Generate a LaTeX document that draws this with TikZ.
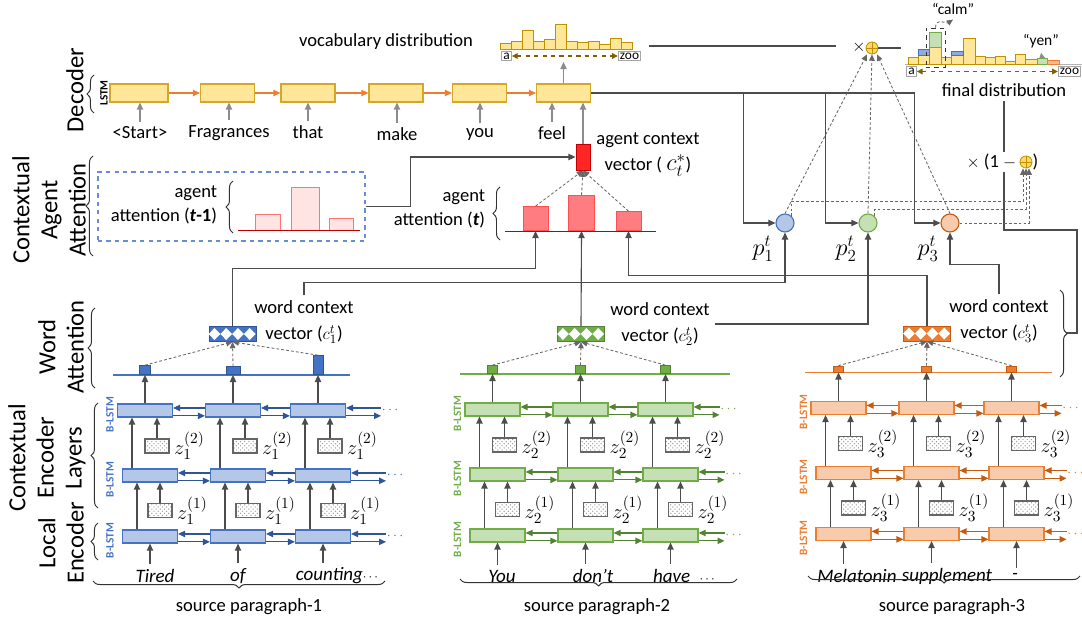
\documentclass[tikz,border=0pt]{standalone}
\usepackage{fontspec}
\setmainfont{Carlito}
\usetikzlibrary{arrows.meta, positioning, calc, decorations.pathreplacing, patterns}

\definecolor{decfill}{RGB}{255,230,153}
\definecolor{decdraw}{RGB}{214,166,40}
\definecolor{decflowc}{RGB}{237,125,49}
\definecolor{encF1}{RGB}{180,199,231}
\definecolor{encL1}{RGB}{68,114,196}
\definecolor{encD1}{RGB}{47,85,151}
\definecolor{encF2}{RGB}{197,224,180}
\definecolor{encL2}{RGB}{112,173,71}
\definecolor{encD2}{RGB}{84,130,53}
\definecolor{encF3}{RGB}{248,203,173}
\definecolor{encL3}{RGB}{237,125,49}
\definecolor{encD3}{RGB}{197,90,17}
\definecolor{agfill}{RGB}{255,124,128}
\definecolor{agdraw}{RGB}{255,80,80}
\definecolor{agline}{RGB}{192,0,0}
\definecolor{ctxred}{RGB}{255,38,38}
\definecolor{agpale}{RGB}{255,228,228}
\definecolor{vocbrown}{RGB}{127,96,0}
\definecolor{goldline}{RGB}{191,144,0}
\definecolor{oplusfill}{RGB}{255,217,102}
\definecolor{midblue}{RGB}{143,170,220}

\newcommand{\upx}{0.025cm}

\begin{document}
\begin{tikzpicture}[
    x=\upx, y=-\upx,
    font=\fontsize{13.2}{17}\selectfont,
    sidelbl/.style={rotate=90, align=center, font=\fontsize{17.5}{20}\selectfont},
    rottag/.style={rotate=90, inner sep=0, font=\bfseries\fontsize{8}{9}\selectfont},
    curly/.style={decorate, decoration={brace, amplitude=5pt}, draw=black!80, line width=0.7pt},
    declstm/.style={draw=decdraw, fill=decfill, line width=0.8pt, minimum width=54*\upx, minimum height=18*\upx, inner sep=0},
    lstm/.style={line width=0.8pt, minimum width=55*\upx, minimum height=13*\upx, inner sep=0},
    zbox/.style={draw=black!60, line width=0.9pt, pattern=crosshatch dots, pattern color=black!40, minimum width=24*\upx, minimum height=14*\upx, inner sep=0},
    zlab/.style={inner sep=0, font=\fontsize{15}{17}\selectfont},
    wbar/.style={anchor=south, line width=0.6pt, inner sep=0},
    cvec/.style={minimum width=47*\upx, minimum height=15*\upx, inner sep=0, line width=0.6pt},
    agbar/.style={anchor=south, fill=agfill, draw=agdraw, line width=0.6pt, inner sep=0},
    palebar/.style={fill=agpale, draw=agdraw!80, line width=0.6pt},
    agbase/.style={draw=agline, line width=0.7pt},
    ctxvec/.style={fill=ctxred, draw=agline, line width=0.7pt, minimum width=14*\upx, minimum height=26*\upx, inner sep=0},
    probnode/.style={circle, line width=0.8pt, minimum size=18*\upx, inner sep=0},
    oplus/.style={circle, draw=goldline, fill=oplusfill, line width=0.6pt, minimum size=12*\upx, inner sep=0,
        path picture={\draw[goldline, line width=0.6pt] (path picture bounding box.north) -- (path picture bounding box.south)
            (path picture bounding box.west) -- (path picture bounding box.east);}},
    histbar/.style={draw=goldline, fill=decfill, line width=0.7pt},
    vocbox/.style={draw=black!35, line width=0.7pt, inner sep=1.2pt, font=\fontsize{9.5}{10}\selectfont},
    vocarrow/.style={{Triangle[length=4pt,width=4pt]}-{Triangle[length=4pt,width=4pt]}, dashed, draw=vocbrown, line width=0.8pt},
    decflow/.style={-{Triangle[length=5pt,width=4.5pt]}, draw=decflowc, line width=0.9pt},
    grayarrow/.style={-{Triangle[length=5pt,width=4.5pt]}, draw=black!45, line width=0.9pt},
    encarrow/.style={-{Triangle[length=5pt,width=4.5pt]}, draw=black!70, line width=0.9pt},
    lstmarrow/.style={-{Triangle[length=5pt,width=4.5pt]}, line width=0.9pt},
    conn/.style={-{Triangle[length=5pt,width=4.5pt]}, draw=black!70, line width=0.8pt},
    connline/.style={draw=black!70, line width=0.8pt},
    dasharrow/.style={-{Triangle[length=4.5pt,width=4pt]}, dash pattern=on 2pt off 1.5pt, draw=black!60, line width=0.6pt},
]
\useasboundingbox (0,0) rectangle (1082,623);

% Left side labels
\node[sidelbl] (lbldec) at (75,90) {Decoder};
\draw[curly] (94,113) -- (94,75);
\node[rottag] (lbllstm) at (104,93) {LSTM};
\node[sidelbl] (lblagent) at (49,210) {Contextual\\Agent\\Attention};
\draw[curly] (93,256) -- (93,156);
\node[sidelbl] (lblword) at (61,347) {Word\\Attention};
\draw[curly] (95,388) -- (95,308);
\node[sidelbl] (lblctx) at (47,458) {Contextual\\Encoder\\Layers};
\draw[curly] (98,508) -- (98,403);
\node[sidelbl] (lbllocal) at (61,543) {Local\\Encoder};
\draw[curly] (98,560) -- (98,523);

% Decoder
\node[declstm, minimum width=58*\upx] (dec1) at (139,93) {};
\node[declstm] (dec2) at (227.5,93) {};
\node[declstm] (dec3) at (308,93) {};
\node[declstm] (dec4) at (396,93) {};
\node[declstm] (dec5) at (479.5,93) {};
\node[declstm] (dec6) at (563.5,93) {};
\foreach \a/\b in {1/2,2/3,3/4,4/5,5/6}
    \draw[decflow] (dec\a.east) -- (dec\b.west);
\node (dw1) at (140,133) {<Start>};
\node (dw2) at (229,133) {Fragrances};
\node (dw3) at (308,132) {that};
\node (dw4) at (397,134) {make};
\node (dw5) at (480,134) {you};
\node (dw6) at (552,133) {feel};
\foreach \k in {1,...,6}
    \draw[grayarrow] (dw\k.north) -- (dw\k.north |- dec\k.south);

% Vocabulary distribution
\node (vlabel) at (386,42) {vocabulary distribution};
\foreach \hh [count=\k] in {6,8,19,8,10,25,8,7,8,5,11,7}
    \draw[histbar] ({489+11*\k},49) rectangle ++(11,-\hh);
\node[vocbox] (va) at (506.5,56) {a};
\node[vocbox] (vzoo) at (629.5,56) {zoo};
\draw[vocarrow] (va.east) -- (vzoo.west);
\coordinate (vocin) at (563.5,62);
\draw[grayarrow] (dec6.north) -- (vocin);
\coordinate (vocout) at (649,46);
\coordinate (vocend) at (836,46);
\draw[connline] (vocout) -- (vocend);
\node[inner sep=0] (times1) at (859,47) {$\times$};
\node[oplus] (plus1) at (872,48) {};
\coordinate (finin) at (901,48);
\draw[connline] (plus1.east) -- (finin);

% Final distribution
\draw[black!30, line width=1.2pt] (905,64.5) -- (1082,64.5);
\foreach \xa/\xb/\hh in {908/918/7, 918/929/9, 929/941/17, 941/951/7, 951/963/9, 963/975/26, 975/985/8, 985/995/7, 995/1005/8, 1005/1015/3, 1015/1025/10, 1025/1037/5}
    \draw[histbar] (\xa,64) rectangle (\xb,{64-\hh});
\draw[fill=midblue, draw=encL1, line width=0.7pt] (918,55) rectangle (929,49);
\draw[fill=midblue, draw=encL1, line width=0.7pt] (951,55) rectangle (963,51);
\draw[fill=encF2, draw=encL2, line width=0.7pt] (929,47) rectangle (941,32);
\draw[fill=encF2, draw=encL2, line width=0.7pt] (1037,64) rectangle (1047,58);
\draw[fill=encF3!80!encL3, draw=encL3, line width=0.7pt] (1047,64) rectangle (1059,60);
\node[draw=black!80, dashed, line width=0.7pt, minimum width=19*\upx, minimum height=39*\upx, inner sep=0] (calmbox) at (935.5,47.5) {};
\node[font=\fontsize{11}{12}\selectfont] (calm) at (953,9) {“calm”};
\draw[dasharrow] (calmbox.north) .. controls +(0,-10) and +(-6,4) .. (calm.south);
\node[font=\fontsize{11}{12}\selectfont] (yen) at (1041,41) {“yen”};
\coordinate (yenbar) at (1042,58);
\draw[-{Triangle[length=4pt,width=4pt]}, draw=black!45, line width=0.8pt] (yenbar) -- (yen.south);
\node[vocbox] (fa) at (911.5,71.5) {a};
\node[vocbox] (fzoo) at (1069.5,71.5) {zoo};
\draw[vocarrow] (fa.east) -- (fzoo.west);
\node (fdist) at (1004,90) {final distribution};
\node[anchor=east, inner sep=1pt] (mixa) at (1018,162) {$\times$ (1 $-$};
\node[oplus] (plus2) at (1026,162) {};
\node[anchor=west, inner sep=1pt] (mixb) at (1031,162) {)};
\draw[connline] (fdist.south) -- (fdist.south |- mixa.north);
\coordinate (turn) at (1077,230);
\coordinate (brace3) at (1067,333);
\draw[connline] (fdist.south |- mixa.south) |- (turn) |- (brace3);

% Contextual agent attention, step t-1
\node[draw=encL1!80, dashed, line width=0.8pt, minimum width=267*\upx, minimum height=69*\upx] (prevatt) at (231.5,206.5) {};
\node[align=right, anchor=east] (prevlbl) at (222,205) {agent\\attention (\textbf{\textit{t}}\textbf{-1})};
\draw[curly] (233,233) -- (233,181);
\draw[palebar] (255,230) rectangle (280,214);
\draw[palebar] (291,230) rectangle (319,187);
\draw[palebar] (329,230) rectangle (353,218);
\draw[agbase] (238,230) -- (360,230);

% Contextual agent attention, step t
\node[agbar, minimum width=25*\upx, minimum height=24*\upx] (agbar1) at (535.5,231) {};
\node[agbar, minimum width=26*\upx, minimum height=35*\upx] (agbar2) at (581.5,231) {};
\node[agbar, minimum width=25*\upx, minimum height=19*\upx] (agbar3) at (628.5,231) {};
\draw[agbase] (505,231) -- (656,231);
\node[align=right, anchor=east] (curlbl) at (490,209) {agent\\attention (\textbf{\textit{t}})};
\draw[curly] (500,240) -- (500,187);
\node[ctxvec] (ctx) at (583,157) {};
\node[align=center] (ctxlbl) at (648,155) {agent context\\[1.5pt]vector ( {\fontsize{17}{17}\selectfont$c_t^{*}$})};
\foreach \k in {1,2,3}
    \draw[dasharrow] (agbar\k.north) -- (ctx.south);
\draw[grayarrow] (ctx.north) -- (ctx.north |- dec6.south);
\draw[conn] (prevatt.east) -- ++(45,0) |- (ctx.west);

% Encoders of the three source paragraphs
\foreach \n/\xo/\dy/\tl in {1/150/0/35, 2/497.5/-1/26, 3/843.5/-2.5/22} {
    \foreach \rw/\ry/\rs in {t/410.5/-5, m/475.5/0, b/536.5/0} {
        \foreach \col/\dx in {1/0, 2/88, 3/173}
            \node[lstm, fill=encF\n, draw=encL\n] (p\n\rw\col) at ({\xo+\dx+\rs}, {\ry+\dy}) {};
        \foreach \col/\nx in {1/2, 2/3} {
            \draw[lstmarrow, draw=encD\n] ([yshift=1.8pt]p\n\rw\nx.west) -- ([yshift=1.8pt]p\n\rw\col.east);
            \draw[lstmarrow, draw=encD\n] ([yshift=-3.8pt]p\n\rw\col.east) -- ([yshift=-3.8pt]p\n\rw\nx.west);
        }
        \coordinate (p\n\rw e) at ([xshift=\tl*\upx]p\n\rw3.east);
        \draw[lstmarrow, draw=encD\n] ([yshift=1.8pt]p\n\rw e) -- ([yshift=1.8pt]p\n\rw3.east);
        \draw[lstmarrow, draw=encD\n] ([yshift=-3.8pt]p\n\rw3.east) -- ([yshift=-3.8pt]p\n\rw e);
        \node[text=encL\n, inner sep=0, font=\fontsize{10}{10}\selectfont] (p\n\rw d) at ([xshift={(\tl+9)*\upx}]p\n\rw3.east) {$\cdots$};
        \node[rottag, text=encL\n] (p\n\rw l) at ({\xo-40}, {\ry+\dy+4}) {B-LSTM};
    }
    \foreach \col/\dx in {1/0, 2/88, 3/173} {
        \node[zbox] (p\n za\col) at ({\xo+\dx+7}, {446+\dy}) {};
        \node[zbox] (p\n zb\col) at ({\xo+\dx+10}, {510.5+\dy}) {};
        \node[zlab, right=3pt of p\n za\col] (p\n zla\col) {$z_\n^{(2)}$};
        \node[zlab, right=3pt of p\n zb\col] (p\n zlb\col) {$z_\n^{(1)}$};
        \draw[encarrow] ([xshift=-18*\upx]p\n m\col.north) -- ([xshift=-13*\upx]p\n t\col.south);
        \draw[encarrow] (p\n za\col) -- ([xshift=12*\upx]p\n t\col.south);
        \draw[encarrow] ([xshift=-13*\upx]p\n b\col.north) -- ([xshift=-13*\upx]p\n m\col.south);
        \draw[encarrow] (p\n zb\col) -- ([xshift=10*\upx]p\n m\col.south);
    }
}

% Source words
\foreach \n/\col/\x/\wrd in {1/1/155/Tired, 1/2/238/of, 1/3/337/counting{\fontsize{9}{9}\selectfont$\cdots$},
        2/1/502/You, 2/2/593/don’t, 2/3/684/have\enspace{\fontsize{9}{9}\selectfont$\cdots$},
        3/1/857/Melatonin, 3/2/947/supplement, 3/3/1015/-} {
    \node[font=\fontsize{13.5}{14}\itshape] (p\n x\col) at (\x,576) {\wrd};
    \draw[encarrow] (p\n x\col.north -| p\n b\col.south) -- (p\n b\col.south);
}
\draw[curly] (385,581) -- (93,581);
\node (src1) at (249,607) {source paragraph-1};
\draw[curly] (737,579) -- (460,579);
\node (src2) at (597,607) {source paragraph-2};
\draw[curly] (1080,576) -- (808,576);
\node (src3) at (952,607) {source paragraph-3};

% Word attention
\draw[encL1, line width=0.9pt] (113,375) -- (350,375);
\draw[encL2, line width=0.9pt] (460,374) -- (730,374);
\draw[encL3, line width=0.9pt] (805,372.5) -- (1052,372.5);
\foreach \n/\col/\x/\y/\bh/\bw in {1/1/145/375/9/11, 1/2/233/375/8/14, 1/3/318/375/19/10,
        2/1/492.5/374/8/10, 2/2/580.5/374/8/10, 2/3/665.5/374/8/10,
        3/1/838.5/372.5/6/10, 3/2/926.5/372.5/6/10, 3/3/1011.5/372.5/6/10} {
    \node[wbar, fill=encL\n, draw=encD\n, minimum width=\bw*\upx, minimum height=\bh*\upx] (p\n w\col) at (\x,\y) {};
    \draw[encarrow] (p\n t\col.north) -- (p\n w\col.south);
}
\foreach \n/\x/\y in {1/232.5/334, 2/581/334, 3/927/333.5} {
    \node[cvec, fill=encL\n, draw=encD\n] (p\n c) at (\x,\y) {};
    \foreach \k in {0,1,2,3}
        \fill[white] ($(p\n c.west)+({11.75*\k},0)$) -- ++(5.875,-6) -- ++(5.875,6) -- ++(-5.875,6) -- cycle;
    \foreach \col in {1,2,3}
        \draw[dasharrow] (p\n w\col.north) -- (p\n c.south);
}
\node[align=center] (p1cl) at (304,322) {word context\\[1.5pt]vector ($c_1^t$)};
\node[align=center] (p2cl) at (660,324) {word context\\[1.5pt]vector ($c_2^t$)};
\node[align=center] (p3cl) at (999,321) {word context\\[1.5pt]vector ($c_3^t$)};
\draw[curly] (1060,290) -- (1060,377);

% Paragraph selection probabilities
\node[probnode, fill=encF1, draw=encL1] (prob1) at (785,223) {};
\node[probnode, fill=encF2, draw=encL2] (prob2) at (868,223) {};
\node[probnode, fill=encF3, draw=encD3] (prob3) at (950,223) {};
\node[font=\fontsize{18}{20}\selectfont] (pl1) at (763,249) {$p_1^t$};
\node[font=\fontsize{18}{20}\selectfont] (pl2) at (846,249) {$p_2^t$};
\node[font=\fontsize{18}{20}\selectfont] (pl3) at (928,249) {$p_3^t$};

% Connectors
\draw[conn] (p1c.north) -- ++(0,-58) -| (agbar1.south);
\draw[conn] (p2c.north) -- (agbar2.south);
\draw[conn] (p3c.north) -- ++(0,-50) -| (agbar3.south);
\draw[conn] (p1cl.north) -- ++(0,-13) -| (prob1.south);
\draw[conn] (p2cl.east) -| (prob2.south);
\draw[conn] (p3cl.north) -- ++(0,-30) -| (prob3.south);
\draw[conn] (dec6.east) -| ([xshift=-32*\upx]prob1.west) -- (prob1.west);
\draw[conn] (dec6.east) -| ([xshift=-33*\upx]prob2.west) -- (prob2.west);
\draw[conn] (dec6.east) -| ([xshift=-26*\upx]prob3.west) -- (prob3.west);
\draw[dasharrow] (prob1.north) -- ([xshift=-5*\upx]plus1.south);
\draw[dasharrow] (prob2.north) -- (plus1.south);
\draw[dasharrow] (prob3.north) -- ([xshift=5*\upx]plus1.south);
\draw[dasharrow] (prob1.north east) -- ++(0,-15) -| ([xshift=-3*\upx]plus2.south);
\draw[dasharrow] (prob2.north east) -- ++(0,-7) -| (plus2.south);
\draw[dasharrow] (prob3.east) -| ([xshift=3*\upx]plus2.south);
\end{tikzpicture}
\end{document}
